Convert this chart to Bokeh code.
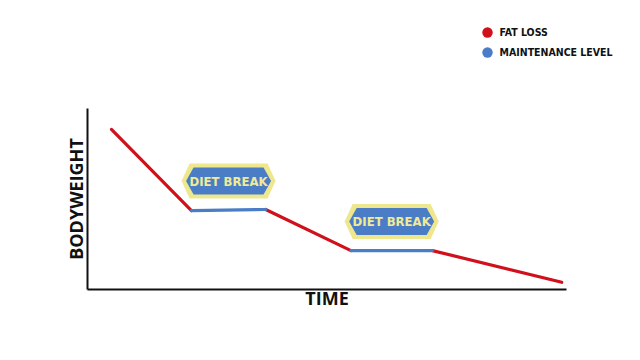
from bokeh.plotting import figure
from bokeh.models import Range1d, FixedTicker, Legend, LegendItem, LinearAxis
from bokeh.core.properties import value
from bokeh.embed import file_html
from bokeh.resources import INLINE

# ---- data (arbitrary units) ----
time = [5.0, 21.7, 37.2, 55.0, 72.0, 99.0]
bodyweight = [88.4, 43.6, 44.2, 21.5, 21.5, 4.0]
segment_phase = ["FAT LOSS", "MAINTENANCE LEVEL", "FAT LOSS", "MAINTENANCE LEVEL", "FAT LOSS"]
phase_names = ["FAT LOSS", "MAINTENANCE LEVEL"]
phase_colors = ["#d0111c", "#4a7dc6"]
badge_text = "DIET BREAK"
axis_start, axis_end = 0, 100

RED, BLUE = phase_colors
YELLOW = "#eee78e"
TEXT_YELLOW = "#f0ea96"
COND = "DejaVu Sans Condensed"

W, H = 624, 344
# pixel geometry of the axes box inside the figure
AX_L, AX_R, AX_T, AX_B = 87, 566, 108, 289
kx = (AX_R - AX_L) / (axis_end - axis_start)   # px per unit
ky = (AX_B - AX_T) / (axis_end - axis_start)

p = figure(width=W, height=H, output_backend="svg", toolbar_location=None,
           x_range=Range1d(axis_start - AX_L / kx, axis_start + (W - AX_L) / kx),
           y_range=Range1d(axis_start - (H - AX_B) / ky, axis_start + AX_B / ky),
           x_axis_type=None, y_axis_type=None, min_border=0)
p.outline_line_color = None
p.xgrid.visible = False
p.ygrid.visible = False
p.background_fill_color = "white"
p.border_fill_color = "white"

xaxis = LinearAxis(fixed_location=axis_start, bounds=(axis_start, axis_end), axis_label="TIME")
yaxis = LinearAxis(fixed_location=axis_start, bounds=(axis_start, axis_end), axis_label="BODYWEIGHT")
for ax in (xaxis, yaxis):
    ax.ticker = FixedTicker(ticks=[])
    ax.minor_tick_line_color = None
    ax.major_tick_line_color = None
    ax.axis_line_width = 2
    ax.axis_line_color = "#111111"
    ax.axis_label_text_font = "Open Sans"
    ax.axis_label_text_font_style = "bold"
    ax.axis_label_text_font_size = "18px"
    ax.axis_label_text_color = "#111111"
xaxis.axis_label_standoff = -4
yaxis.axis_label_standoff = 0
p.add_layout(xaxis, "below")
p.add_layout(yaxis, "left")

sx = 1.0 / kx
sy = 1.0 / ky

# segments by phase
for name, color in zip(phase_names, phase_colors):
    xs, ys = [], []
    for i, ph in enumerate(segment_phase):
        if ph == name:
            xs.append([time[i], time[i + 1]])
            ys.append([bodyweight[i], bodyweight[i + 1]])
    p.multi_line(xs=xs, ys=ys, line_color=color, line_width=3.2, line_cap="round")

# badges above maintenance segments
outer = [(-47, 0), (-39, 17.5), (39, 17.5), (47, 0), (39, -17.5), (-39, -17.5)]
inner = [(-42.5, 0), (-35, 13.5), (35, 13.5), (42.5, 0), (35, -13.5), (-35, -13.5)]
oxs, oys, ixs, iys, tx, ty = [], [], [], [], [], []
for i, ph in enumerate(segment_phase):
    if ph == "MAINTENANCE LEVEL":
        cx = (time[i] + time[i + 1]) / 2
        cy = (bodyweight[i] + bodyweight[i + 1]) / 2 + 29 * sy
        oxs.append([cx + dx * sx for dx, dy in outer])
        oys.append([cy + dy * sy for dx, dy in outer])
        ixs.append([cx + dx * sx for dx, dy in inner])
        iys.append([cy + dy * sy for dx, dy in inner])
        tx.append(cx)
        ty.append(cy)
p.patches(xs=oxs, ys=oys, fill_color=YELLOW, line_color=None)
p.patches(xs=ixs, ys=iys, fill_color=BLUE, line_color=None)
p.text(x=tx, y=ty, text=[badge_text] * len(tx), text_align="center", text_baseline="middle",
       text_font=value(COND), text_font_style="bold",
       text_font_size="13px", text_color=TEXT_YELLOW)

# legend (top right, outside the axes box): one small legend per phase
legend_centers = [31.7, 52.3]   # px from top of figure
legend_cx = 486.5
GW, GH = 26, 28
for name, color, cyy in zip(phase_names, phase_colors, legend_centers):
    # zero-size marker: invisible in the plot, full-size circle in the legend
    r = p.scatter(x=[time[0]], y=[bodyweight[0]], size=0, marker="circle",
                  fill_color=color, line_color=None)
    leg = Legend(items=[LegendItem(label=name, renderers=[r])],
                 location=(legend_cx - GW / 2, H - (cyy + GH / 2)),
                 glyph_width=GW, glyph_height=GH, label_height=GH, spacing=0,
                 padding=0, margin=0, label_standoff=0,
                 border_line_color=None, background_fill_alpha=0,
                 label_text_font=COND, label_text_font_style="bold",
                 label_text_font_size="10.5px", label_text_color="#111111")
    p.add_layout(leg, "center")

open("out.html", "w").write(file_html(p, INLINE))
